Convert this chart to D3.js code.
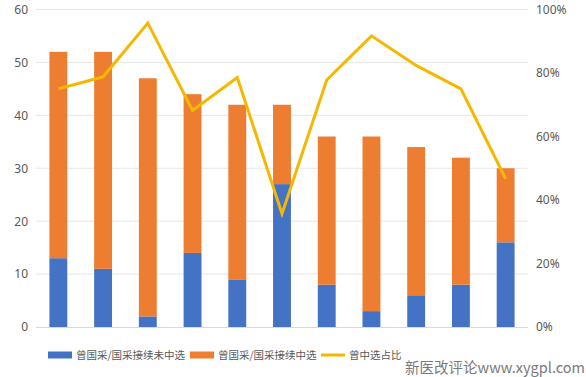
<!DOCTYPE html>
<html><head><meta charset="utf-8">
<script src="https://cdn.jsdelivr.net/npm/d3@7"></script>
<style>body{margin:0;background:#fff;}svg{display:block;font-family:"Noto Sans CJK SC","Noto Sans",sans-serif;}</style>
</head><body><svg id="c" width="586" height="377"></svg>
<script>
const categories = ["1","2","3","4","5","6","7","8","9","10","11"];
const notSelected = [13, 11, 2, 14, 9, 27, 8, 3, 6, 8, 16];
const selected = [39, 41, 45, 30, 33, 15, 28, 33, 28, 24, 14];
const ratio = [0.75, 0.788, 0.957, 0.682, 0.786, 0.357, 0.778, 0.917, 0.824, 0.75, 0.467];
const leftTicks = [0, 10, 20, 30, 40, 50, 60];
const rightTicks = [0, 0.2, 0.4, 0.6, 0.8, 1.0];
const seriesNames = ["曾国采/国采接续未中选", "曾国采/国采接续中选", "曾中选占比"];
const colors = ["#4472C4", "#ED7D31", "#F5B800"];

const svg = d3.select("#c");
const L = 36, R = 528, T = 9.5, B = 327;
const x = d3.scaleBand().domain(categories).range([L, R]).paddingInner(0.6).paddingOuter(0.3);
const y = d3.scaleLinear().domain([0, 60]).range([B, T]);
const y2 = d3.scaleLinear().domain([0, 1]).range([B, T]);

svg.append("g").selectAll("line").data(leftTicks.filter(d => d > 0)).join("line")
  .attr("x1", L).attr("x2", R).attr("y1", d => y(d)).attr("y2", d => y(d))
  .attr("stroke", "#e6e6e6").attr("stroke-width", 1);

const ax = svg.append("g").attr("transform", `translate(${L},0)`)
  .call(d3.axisLeft(y).tickValues(leftTicks).tickSize(0).tickPadding(8));
ax.select(".domain").remove();
ax.selectAll("text").attr("fill", "#595959").style("font-size", "12px").style("font-family", "Noto Sans, sans-serif");

const ax2 = svg.append("g").attr("transform", `translate(${R},0)`)
  .call(d3.axisRight(y2).tickValues(rightTicks).tickSize(0).tickPadding(8).tickFormat(d3.format(".0%")));
ax2.select(".domain").remove();
ax2.selectAll("text").attr("fill", "#595959").style("font-size", "12px").style("font-family", "Noto Sans, sans-serif");

const rows = categories.map((c, i) => ({cat: c, a: notSelected[i], b: selected[i]}));
const stack = d3.stack().keys(["a", "b"])(rows);
svg.append("g").selectAll("g").data(stack).join("g")
  .attr("fill", (d, i) => colors[i])
  .selectAll("rect").data(d => d).join("rect")
  .attr("x", d => x(d.data.cat)).attr("width", x.bandwidth())
  .attr("y", d => y(d[1])).attr("height", d => y(d[0]) - y(d[1]));

svg.append("line").attr("x1", L).attr("x2", R).attr("y1", B + 0.5).attr("y2", B + 0.5)
  .attr("stroke", "#d9d9d9").attr("stroke-width", 1);

const line = d3.line().x((d, i) => x(categories[i]) + x.bandwidth() / 2).y(d => y2(d));
svg.append("path").datum(ratio).attr("d", line).attr("fill", "none")
  .attr("stroke", colors[2]).attr("stroke-width", 3).attr("stroke-linejoin", "miter");

const lg = svg.append("g").style("font-size", "10.5px");
const items = [
  {x: 48, w: 24, h: 7, type: "rect"},
  {x: 190, w: 24, h: 7, type: "rect"},
  {x: 321, w: 24, h: 3, type: "line"}
];
items.forEach((it, i) => {
  if (it.type === "rect") {
    lg.append("rect").attr("x", it.x).attr("y", 351.5).attr("width", it.w).attr("height", it.h).attr("fill", colors[i]);
  } else {
    lg.append("line").attr("x1", it.x).attr("x2", it.x + it.w).attr("y1", 355).attr("y2", 355)
      .attr("stroke", colors[i]).attr("stroke-width", 3);
  }
  lg.append("text").attr("x", it.x + it.w + 4).attr("y", 359).attr("fill", "#595959").text(seriesNames[i]);
});

svg.append("text").attr("x", 585).attr("y", 373).attr("text-anchor", "end")
  .style("font-size", "14.5px").attr("fill", "#7a7a7a").attr("stroke", "#fff").attr("stroke-width", 2)
  .attr("paint-order", "stroke").text("新医改评论www.xygpl.com");
</script></body></html>
